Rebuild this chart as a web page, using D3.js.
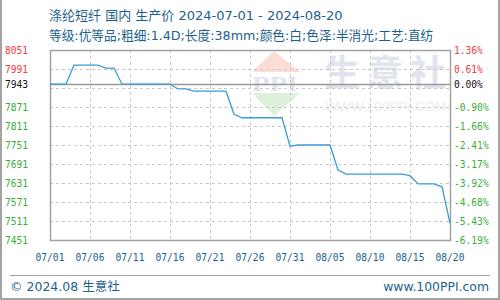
<!DOCTYPE html>
<html lang="zh">
<head>
<meta charset="UTF-8">
<title>涤纶短纤 国内 生产价</title>
<script src="https://cdn.jsdelivr.net/npm/d3@7"></script>
<style>
    body { margin: 0; padding: 0; background: #fff; }
    svg { display: block; }
    .mono { font-family: "DejaVu Sans Mono", monospace; font-size: 9.6px; }
    .head { font-family: "DejaVu Sans", "Noto Sans CJK SC", sans-serif; fill: #1d5f8c; }
</style>
</head>
<body>
<svg id="chart" width="500" height="300"></svg>
<script>
// chart values
const startDate = '2024-07-01';
const prices = [
    7943, 7943, 7943, 8003, 8003, 8003, 8003, 7994, 7994, 7943,
    7943, 7943, 7943, 7943, 7943, 7943, 7928, 7928, 7921, 7921,
    7921, 7921, 7921, 7848, 7837, 7837, 7837, 7837, 7837, 7837,
    7747, 7751, 7751, 7751, 7751, 7751, 7672, 7659, 7659, 7659,
    7659, 7659, 7659, 7659, 7659, 7654, 7628, 7628, 7628, 7619,
    7504
];
const basePrice = 7943;
const gridValues = [8051, 7991, 7931, 7871, 7811, 7751, 7691, 7631, 7571, 7511, 7451];
const leftTicks = [8051, 7991, 7943, 7871, 7811, 7751, 7691, 7631, 7571, 7511, 7451];
const rightLabels = ['1.36%', '0.61%', '0.00%', '-0.90%', '-1.66%', '-2.41%', '-3.17%',
                     '-3.92%', '-4.68%', '-5.43%', '-6.19%'];
const xTickLabels = ['07/01', '07/06', '07/11', '07/16', '07/21', '07/26',
                     '07/31', '08/05', '08/10', '08/15', '08/20'];
const title = '涤纶短纤 国内 生产价 2024-07-01 - 2024-08-20';
const subtitle = '等级:优等品;粗细:1.4D;长度:38mm;颜色:白;色泽:半消光;工艺:直纺';

const parse = d3.timeParse('%Y-%m-%d');
const parseTick = d3.timeParse('%Y/%m/%d');
const t0 = parse(startDate);
const data = prices.map((v, i) => ({ date: d3.timeDay.offset(t0, i), value: v }));
const xTickDates = xTickLabels.map(s => parseTick('2024/' + s));

const svg = d3.select('#chart');
const W = 500, H = 300;
const plot = { left: 50, right: 450, top: 50, bottom: 240 };

const x = d3.scaleTime()
    .domain(d3.extent(data, d => d.date))
    .range([plot.left, plot.right]);
const y = d3.scaleLinear()
    .domain([d3.min(gridValues), d3.max(gridValues)])
    .range([plot.bottom, plot.top]);

// outer frame (left, right, bottom)
svg.append('path')
    .attr('d', `M1,0V${H - 1}H${W - 1}V0`)
    .attr('fill', 'none')
    .attr('stroke', '#a3a3a3')
    .attr('stroke-width', 2);

// header
svg.append('text').attr('class', 'head')
    .attr('x', 49).attr('y', 20)
    .attr('font-size', 13)
    .text(title);
svg.append('text').attr('class', 'head')
    .attr('x', 49).attr('y', 40)
    .attr('font-size', 12.7)
    .text(subtitle);

// watermark
const wm = svg.append('g');
wm.append('path').attr('d', 'M274,51L300,72H252Z').attr('fill', '#fbdcd7');
wm.append('path').attr('d', 'M252,93H300L274,116Z').attr('fill', '#dcf0dc');
wm.append('text')
    .attr('x', 252).attr('y', 91)
    .attr('textLength', 46)
    .attr('lengthAdjust', 'spacingAndGlyphs')
    .attr('font-family', 'Liberation Serif, serif')
    .attr('font-weight', 'bold')
    .attr('font-size', 22)
    .attr('fill', '#dfe5ef')
    .text('PPI');
wm.append('text')
    .attr('x', 324).attr('y', 86)
    .attr('font-family', 'Noto Sans CJK SC, sans-serif')
    .attr('font-weight', 'bold')
    .attr('font-size', 36)
    .attr('letter-spacing', 7)
    .attr('fill', '#dfe4ee')
    .text('生意社');
wm.append('text')
    .attr('x', 325).attr('y', 111)
    .attr('font-family', 'Liberation Sans, sans-serif')
    .attr('font-size', 13.6)
    .attr('fill', '#ececec')
    .text('WWW.100PPI.COM');

// grid
const grid = svg.append('g')
    .attr('stroke', '#c8c8c8')
    .attr('stroke-dasharray', '3,3')
    .attr('shape-rendering', 'crispEdges');
grid.selectAll('line.h')
    .data(gridValues.slice(1, -1))
    .join('line')
    .attr('x1', plot.left).attr('x2', plot.right)
    .attr('y1', d => Math.round(y(d)) + 0.5).attr('y2', d => Math.round(y(d)) + 0.5);
grid.selectAll('line.v')
    .data(xTickDates.slice(1, -1))
    .join('line')
    .attr('y1', plot.top).attr('y2', plot.bottom)
    .attr('x1', d => Math.round(x(d)) + 0.5).attr('x2', d => Math.round(x(d)) + 0.5);

// base price line
svg.append('line')
    .attr('x1', plot.left).attr('x2', plot.right)
    .attr('y1', Math.round(y(basePrice)) + 0.5).attr('y2', Math.round(y(basePrice)) + 0.5)
    .attr('stroke', '#999')
    .attr('stroke-width', 1.3);

// plot frame
svg.append('rect')
    .attr('x', plot.left + 0.5).attr('y', plot.top + 0.5)
    .attr('width', plot.right - plot.left).attr('height', plot.bottom - plot.top)
    .attr('fill', 'none')
    .attr('stroke', '#a3a3a3')
    .attr('stroke-width', 1.5);

// price line
svg.append('path')
    .datum(data)
    .attr('fill', 'none')
    .attr('stroke', '#3b9bd8')
    .attr('stroke-width', 1.3)
    .attr('d', d3.line().x(d => x(d.date)).y(d => y(d.value)));

// left price labels
const tickColor = v => v > basePrice ? '#f23c3c' : (v < basePrice ? '#3aae3a' : '#111');
svg.append('g').selectAll('text')
    .data(leftTicks)
    .join('text')
    .attr('class', 'mono')
    .attr('x', 5)
    .attr('y', (d, i) => y(i === 2 ? basePrice : gridValues[i]) + 3.5)
    .attr('fill', d => tickColor(d))
    .text(d => d);

// right percent labels
svg.append('g').selectAll('text')
    .data(rightLabels)
    .join('text')
    .attr('class', 'mono')
    .attr('x', 454)
    .attr('y', (d, i) => y(i === 2 ? basePrice : gridValues[i]) + 3.5)
    .attr('fill', (d, i) => tickColor(leftTicks[i]))
    .text(d => d);

// x labels
svg.append('g').selectAll('text')
    .data(xTickLabels)
    .join('text')
    .attr('class', 'mono')
    .attr('x', (d, i) => x(xTickDates[i]))
    .attr('y', 261)
    .attr('text-anchor', 'middle')
    .attr('fill', '#1d5f8c')
    .text(d => d);

// footer
svg.append('line')
    .attr('x1', 10).attr('x2', 490)
    .attr('y1', 275.5).attr('y2', 275.5)
    .attr('stroke', '#a3a3a3')
    .attr('stroke-width', 1.2);
svg.append('text').attr('class', 'head')
    .attr('x', 10).attr('y', 291)
    .attr('font-size', 12.5)
    .text('© 2024.08 生意社');
svg.append('text')
    .attr('x', 489).attr('y', 291)
    .attr('text-anchor', 'end')
    .attr('font-family', 'DejaVu Sans, sans-serif')
    .attr('font-size', 12.4)
    .attr('fill', '#1d5f8c')
    .text('www.100PPI.com');
</script>
</body>
</html>
